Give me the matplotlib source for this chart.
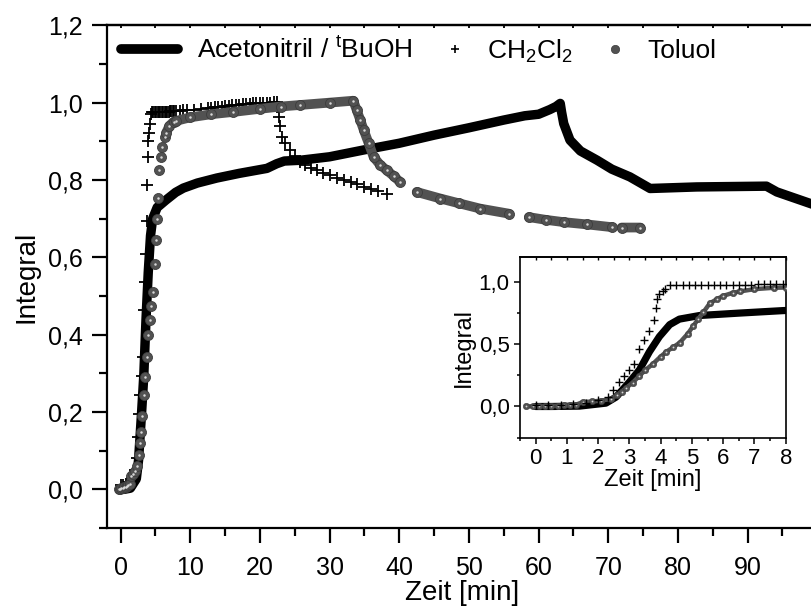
import numpy as np
import matplotlib
matplotlib.use("Agg")
import matplotlib.pyplot as plt
from matplotlib.lines import Line2D
from matplotlib.legend_handler import HandlerLine2D

plt.rcParams['font.family'] = ['Liberation Sans', 'DejaVu Sans']
plt.rcParams['mathtext.fontset'] = 'custom'
plt.rcParams['mathtext.rm'] = 'Liberation Sans'

# ---------------- data ----------------
# Acetonitril / tBuOH
acn_t = [0.0, 0.5, 1.4, 2.25, 2.57, 3.0, 3.32, 3.64, 3.96, 4.29, 4.6, 5.25, 6.5, 7.9,
         9.0, 11.0, 13.8, 17.0, 21.0, 22.4, 23.5, 25.8, 30.0, 35.0, 40.0, 45.0, 50.0,
         55.0, 58.0, 60.0, 61.6, 62.5, 63.1, 63.3, 63.6, 64.5, 66.0, 68.4, 70.5, 73.1,
         76.0, 82.7, 92.7, 94.2, 99.5]
acn_I = [0.0, 0.0, 0.003, 0.027, 0.075, 0.196, 0.293, 0.438, 0.56, 0.656, 0.70, 0.729,
         0.748, 0.768, 0.779, 0.792, 0.805, 0.817, 0.830, 0.842, 0.849, 0.851, 0.860,
         0.878, 0.895, 0.916, 0.935, 0.955, 0.966, 0.970, 0.982, 0.990, 0.998, 0.975,
         0.946, 0.903, 0.875, 0.851, 0.828, 0.808, 0.778, 0.782, 0.784, 0.769, 0.736]

# CH2Cl2
dcm_t = [0.0, 0.4, 0.8, 1.2, 1.6, 2.0, 2.3, 2.46, 2.68, 2.84, 3.0, 3.16, 3.32, 3.48,
         3.64, 3.80, 3.84, 3.88, 3.95, 4.07, 4.15, 4.29,
         4.5, 4.7, 4.9, 5.1, 5.3, 5.5, 5.7, 5.9, 6.1, 6.3, 6.5, 6.7, 6.9, 7.1, 7.3,
         7.5, 7.7, 7.9, 8.5, 9.0, 9.5, 10.5, 11.5, 12.5, 13.0, 13.5, 14.0, 14.5, 15.0,
         15.5, 16.0, 16.5, 17.0, 17.5, 18.0, 18.5, 19.0, 19.5, 20.0, 20.5, 21.0, 21.5,
         22.0, 22.4,
         22.5, 22.7, 22.9, 23.2, 23.6, 24.3, 25.0, 25.8, 26.5, 27.3, 28.2, 29.0, 30.0,
         31.0, 32.0, 33.0, 34.0, 35.0, 36.0, 37.0, 38.2]
dcm_I = [0.010, 0.012, 0.015, 0.018, 0.030, 0.050, 0.080, 0.136, 0.196, 0.245, 0.293,
         0.341, 0.463, 0.535, 0.608, 0.693, 0.786, 0.860, 0.900, 0.922, 0.945, 0.971,
         0.975, 0.976, 0.976, 0.976, 0.976, 0.977, 0.977, 0.977, 0.977, 0.977, 0.977,
         0.977, 0.977, 0.978, 0.978, 0.978, 0.978, 0.978, 0.979, 0.980, 0.981, 0.982,
         0.984, 0.986, 0.987, 0.988, 0.989, 0.990, 0.991, 0.992, 0.993, 0.994, 0.995,
         0.996, 0.996, 0.997, 0.998, 0.998, 0.999, 0.999, 1.000, 1.000, 1.001, 1.002,
         0.990, 0.963, 0.940, 0.911, 0.895, 0.877, 0.862, 0.847, 0.838, 0.831, 0.825,
         0.819, 0.813, 0.806, 0.800, 0.795, 0.789, 0.783, 0.777, 0.771, 0.765]

# Toluol  (nan = gap in the recorded data)
tol_t = [-0.3, -0.1, 0.1, 0.3, 0.5, 0.7, 0.9, 1.1, 1.3, 1.5, 1.8, 2.1, 2.4, 2.6, 2.75,
         2.89, 3.1, 3.32, 3.5, 3.75, 4.0, 4.18, 4.4, 4.61, 4.87, 5.04, 5.2, 5.36, 5.57,
         5.8, 6.0, 6.3, 6.54, 7.0, 7.61, 8.0, 10.0, 13.0, 16.2, 20.0, 23.0, 25.8, 30.0,
         33.4, 33.9, 34.4, 34.9, 35.6, 36.3, 37.2, 38.2, 39.2, 40.1, np.nan,
         42.5, 45.9, 48.5, 51.6, 55.7, np.nan, 58.6, 61.0, 63.6, 67.0, 70.5, np.nan,
         71.9, 74.6]
tol_I = [0.0, 0.002, 0.003, 0.004, 0.005, 0.006, 0.008, 0.010, 0.015, 0.035, 0.040,
         0.047, 0.060, 0.090, 0.12, 0.148, 0.19, 0.245, 0.29, 0.341, 0.40, 0.438, 0.475,
         0.511, 0.584, 0.644, 0.70, 0.753, 0.826, 0.86, 0.886, 0.91, 0.922, 0.94, 0.951,
         0.953, 0.962, 0.970, 0.976, 0.984, 0.990, 0.994, 1.000, 1.005, 0.980, 0.955,
         0.929, 0.895, 0.860, 0.840, 0.825, 0.810, 0.795, np.nan,
         0.769, 0.752, 0.740, 0.726, 0.713, np.nan, 0.704, 0.697, 0.691, 0.685, 0.678,
         np.nan, 0.677, 0.677]

labels = ['Acetonitril / $\\mathregular{^t}$BuOH', 'CH$\\mathregular{_2}$Cl$\\mathregular{_2}$', 'Toluol']
x_label = 'Zeit [min]'
y_label = 'Integral'
main_xticks = [0, 10, 20, 30, 40, 50, 60, 70, 80, 90]
main_yticks = [0.0, 0.2, 0.4, 0.6, 0.8, 1.0, 1.2]
main_yticklabels = ['0,0', '0,2', '0,4', '0,6', '0,8', '1,0', '1,2']
inset_xticks = [0, 1, 2, 3, 4, 5, 6, 7, 8]
inset_yticks = [0.0, 0.5, 1.0]
inset_yticklabels = ['0,0', '0,5', '1,0']

acn_t = np.array(acn_t); acn_I = np.array(acn_I)
dcm_t = np.array(dcm_t); dcm_I = np.array(dcm_I)
tol_t = np.array(tol_t); tol_I = np.array(tol_I)

TOL_FACE = '#525252'
TOL_EDGE = '#3c3c3c'
TOL_HI = '#d8d8d8'

# ---------------- figure ----------------
fig = plt.figure(figsize=(8.11, 6.08), dpi=100)
W, H = 811.0, 608.0
# main axes: x from -2 to 100 min, left spine at 106.7 px, bottom spine at 528 px
ax = fig.add_axes([106.7 / W, (H - 528) / H, (817.3 - 106.7) / W, (528 - 25.3) / H])
ax.set_xlim(-2, 100)
ax.set_ylim(-0.1, 1.2)

ax.plot(acn_t, acn_I, color='black', lw=6.8, solid_capstyle='round',
        solid_joinstyle='round', zorder=2)
ax.plot(dcm_t, dcm_I, ls='none', marker='+', ms=8, mew=1.3, color='black', zorder=3)
dense = np.where(np.isnan(tol_t) | (tol_t >= 6.5), True, False)
ax.plot(np.where(dense, tol_t, np.nan), np.where(dense, tol_I, np.nan), color=TOL_FACE,
        lw=7.0, solid_capstyle='round', zorder=4)
ax.plot(tol_t, tol_I, ls='none', marker='o', ms=7.2, mfc=TOL_FACE, mec=TOL_EDGE,
        mew=0.6, zorder=5)
ax.plot(tol_t, tol_I, ls='none', marker='o', ms=1.8, mfc=TOL_HI, mec='none', zorder=6)

ax.set_xticks(main_xticks)
ax.set_xticks(np.arange(5, 100, 10), minor=True)
ax.set_yticks(main_yticks)
ax.set_yticklabels(main_yticklabels)
ax.set_yticks(np.arange(-0.1, 1.2, 0.2), minor=True)
for s in ['left', 'bottom', 'top', 'right']:
    ax.spines[s].set_linewidth(1.6)
ax.tick_params(which='major', direction='out', length=11, width=1.6, labelsize=18)
ax.tick_params(which='minor', direction='out', length=5.5, width=1.6)
ax.tick_params(axis='x', which='major', pad=9)
ax.tick_params(axis='y', which='major', pad=6)
sec = ax.secondary_xaxis('top')
sec.set_xticks(np.arange(0, 100, 5))
sec.tick_params(direction='in', length=2.5, width=1.3, labeltop=False)
sec.spines['top'].set_linewidth(1.6)
ax.set_xlabel(x_label, fontsize=20, labelpad=0)
ax.set_ylabel(y_label, fontsize=20, labelpad=6)


class EndMarkerHandler(HandlerLine2D):
    def get_xdata(self, legend, xdescent, ydescent, width, height, fontsize):
        xc = -xdescent + width - 0.5 * fontsize
        return [xc - 1, xc + 1], [xc]


h_acn = Line2D([], [], color='black', lw=7, solid_capstyle='round')
h_dcm = Line2D([], [], ls='none', marker='+', ms=6, mew=1.2, color='black')
h_tol = Line2D([], [], ls='none', marker='o', ms=6, mfc=TOL_FACE, mec=TOL_EDGE, mew=0.5)
leg = ax.legend([h_acn, h_dcm, h_tol], labels, loc='center left',
                bbox_to_anchor=(121 / W, 1 - 51 / H), bbox_transform=fig.transFigure,
                ncol=3, frameon=False, fontsize=19, handlelength=2.16,
                handletextpad=0.72, columnspacing=-0.05, borderpad=0, borderaxespad=0,
                numpoints=1,
                handler_map={h_dcm: EndMarkerHandler(numpoints=1),
                             h_tol: EndMarkerHandler(numpoints=1)})

# ---------------- inset ----------------
ins = fig.add_axes([520 / W, (H - 437.7) / H, (785.7 - 520) / W, (437.7 - 256.7) / H])
ins.set_facecolor('white')
ins.set_xlim(-0.5, 8)
ins.set_ylim(-0.1, 1.2)
ins.plot(acn_t, acn_I, color='black', lw=5.2, solid_capstyle='round', zorder=2)
ins.plot(tol_t, tol_I, color=TOL_FACE, lw=3.2, zorder=3)
ins.plot(tol_t, tol_I, ls='none', marker='o', ms=4.6, mfc=TOL_FACE, mec=TOL_EDGE,
         mew=0.4, zorder=4)
ins.plot(tol_t, tol_I, ls='none', marker='o', ms=1.3, mfc=TOL_HI, mec='none', zorder=5)
ins.plot(dcm_t, dcm_I, ls='none', marker='+', ms=6, mew=1.0, color='black', zorder=6)
ins.set_xticks(inset_xticks)
ins.set_xticks(np.arange(-0.5, 8.01, 1.0), minor=True)
ins.set_yticks(inset_yticks)
ins.set_yticklabels(inset_yticklabels)
ins.set_yticks([-0.25, 0.25, 0.75], minor=True)
for s in ins.spines.values():
    s.set_linewidth(1.2)
ins.tick_params(which='major', direction='out', length=4.5, width=1.1, labelsize=16, pad=3)
ins.tick_params(which='minor', direction='out', length=2.5, width=1.1)
isec = ins.secondary_xaxis('top')
isec.set_xticks(np.arange(0, 8.01, 0.5))
isec.tick_params(direction='in', length=2.5, width=1.0, labeltop=False)
isec.spines['top'].set_linewidth(1.2)
ins.set_xlabel(x_label, fontsize=17, labelpad=0)
ins.set_ylabel(y_label, fontsize=17, labelpad=3)

fig.savefig('out.png', dpi=100)
